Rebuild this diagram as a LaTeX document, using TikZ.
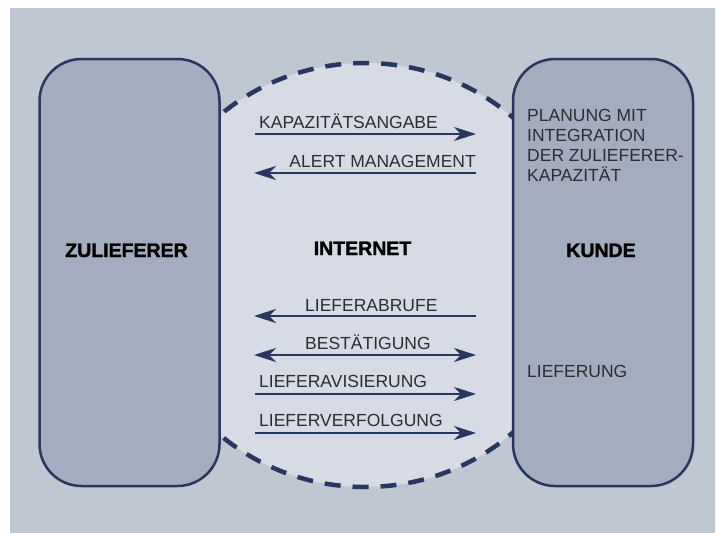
\documentclass[tikz,border=0pt]{standalone}
\usepackage{fontspec}
\setmainfont{Liberation Sans}
\newfontfamily\headfont{Liberation Sans Bold}[FakeBold=1.6]
\usetikzlibrary{arrows.meta,positioning,shapes}
\definecolor{pagegray}{HTML}{BFC7D3}
\definecolor{partnergray}{HTML}{A4ACC0}
\definecolor{netgray}{HTML}{D6DBE5}
\definecolor{navy}{HTML}{283760}
\definecolor{inkgray}{HTML}{2A2D33}
\begin{document}
\begin{tikzpicture}[x=1pt,y=-1pt,
    partner/.style={draw=navy,line width=2.5pt,fill=partnergray,rounded corners=42pt,minimum width=180pt,minimum height=427pt},
    headline/.style={inner sep=0pt,anchor=base,text=black,font=\fontsize{19.5pt}{22pt}\headfont},
    flowtext/.style={inner sep=0pt,text=inkgray,font=\fontsize{17.5pt}{19.7pt}\selectfont},
    flowtip/.tip={Stealth[length=22pt,width=14pt,inset=7pt]},
    flow/.style={navy,line width=2.7pt}]
    % page
    \useasboundingbox (0,0) rectangle (718,533);
    \fill[white] (0,0) rectangle (718,533);
    \fill[pagegray] (10,8) rectangle (715,533);
    % internet
    \node[ellipse,draw=navy,fill=netgray,line width=4.5pt,dash pattern=on 16pt off 12pt,minimum width=442pt,minimum height=424pt] (net) at (365,275) {};
    % partners
    \node[partner] (zul) at (129.5,272.5) {};
    \node[partner] (kun) at (603,272.5) {};
    % headlines
    \node[headline] (zultitle) at (126.5,257) {ZULIEFERER};
    \node[headline] (nettitle) at (362.5,255) {INTERNET};
    \node[headline] (kuntitle) at (601,257) {KUNDE};
    % flow labels
    \node[flowtext,anchor=base west] (kap) at (259,128) {KAPAZITÄTSANGABE};
    \node[flowtext,anchor=base east] (alert) at (476,167) {ALERT MANAGEMENT};
    \node[flowtext,anchor=base west] (abruf) at (305,311) {LIEFERABRUFE};
    \node[flowtext,anchor=base west] (best) at (305,349) {BESTÄTIGUNG};
    \node[flowtext,anchor=base west] (avis) at (259,387) {LIEFERAVISIERUNG};
    \node[flowtext,anchor=base west] (verf) at (259,426) {LIEFERVERFOLGUNG};
    % customer side
    \node[flowtext,anchor=base west,align=left] (plan) at (527,181) {PLANUNG MIT\\INTEGRATION\\DER ZULIEFERER-\\KAPAZITÄT};
    \node[flowtext,anchor=base west] (lief) at (527,377) {LIEFERUNG};
    % connector ends
    \coordinate (kapw) at (255,134);
    \coordinate (kape) at (476,134);
    \coordinate (alertw) at (254,173);
    \coordinate (alerte) at (476,173);
    \coordinate (abrufw) at (254,316);
    \coordinate (abrufe) at (476,316);
    \coordinate (bestw) at (254,355);
    \coordinate (beste) at (476,355);
    \coordinate (avisw) at (255,394);
    \coordinate (avise) at (476,394);
    \coordinate (verfw) at (255,433);
    \coordinate (verfe) at (476,433);
    % connectors
    \draw[flow,-flowtip] (kapw) -- (kape);
    \draw[flow,-flowtip] (alerte) -- (alertw);
    \draw[flow,-flowtip] (abrufe) -- (abrufw);
    \draw[flow,flowtip-flowtip] (bestw) -- (beste);
    \draw[flow,-flowtip] (avisw) -- (avise);
    \draw[flow,-flowtip] (verfw) -- (verfe);
\end{tikzpicture}
\end{document}
